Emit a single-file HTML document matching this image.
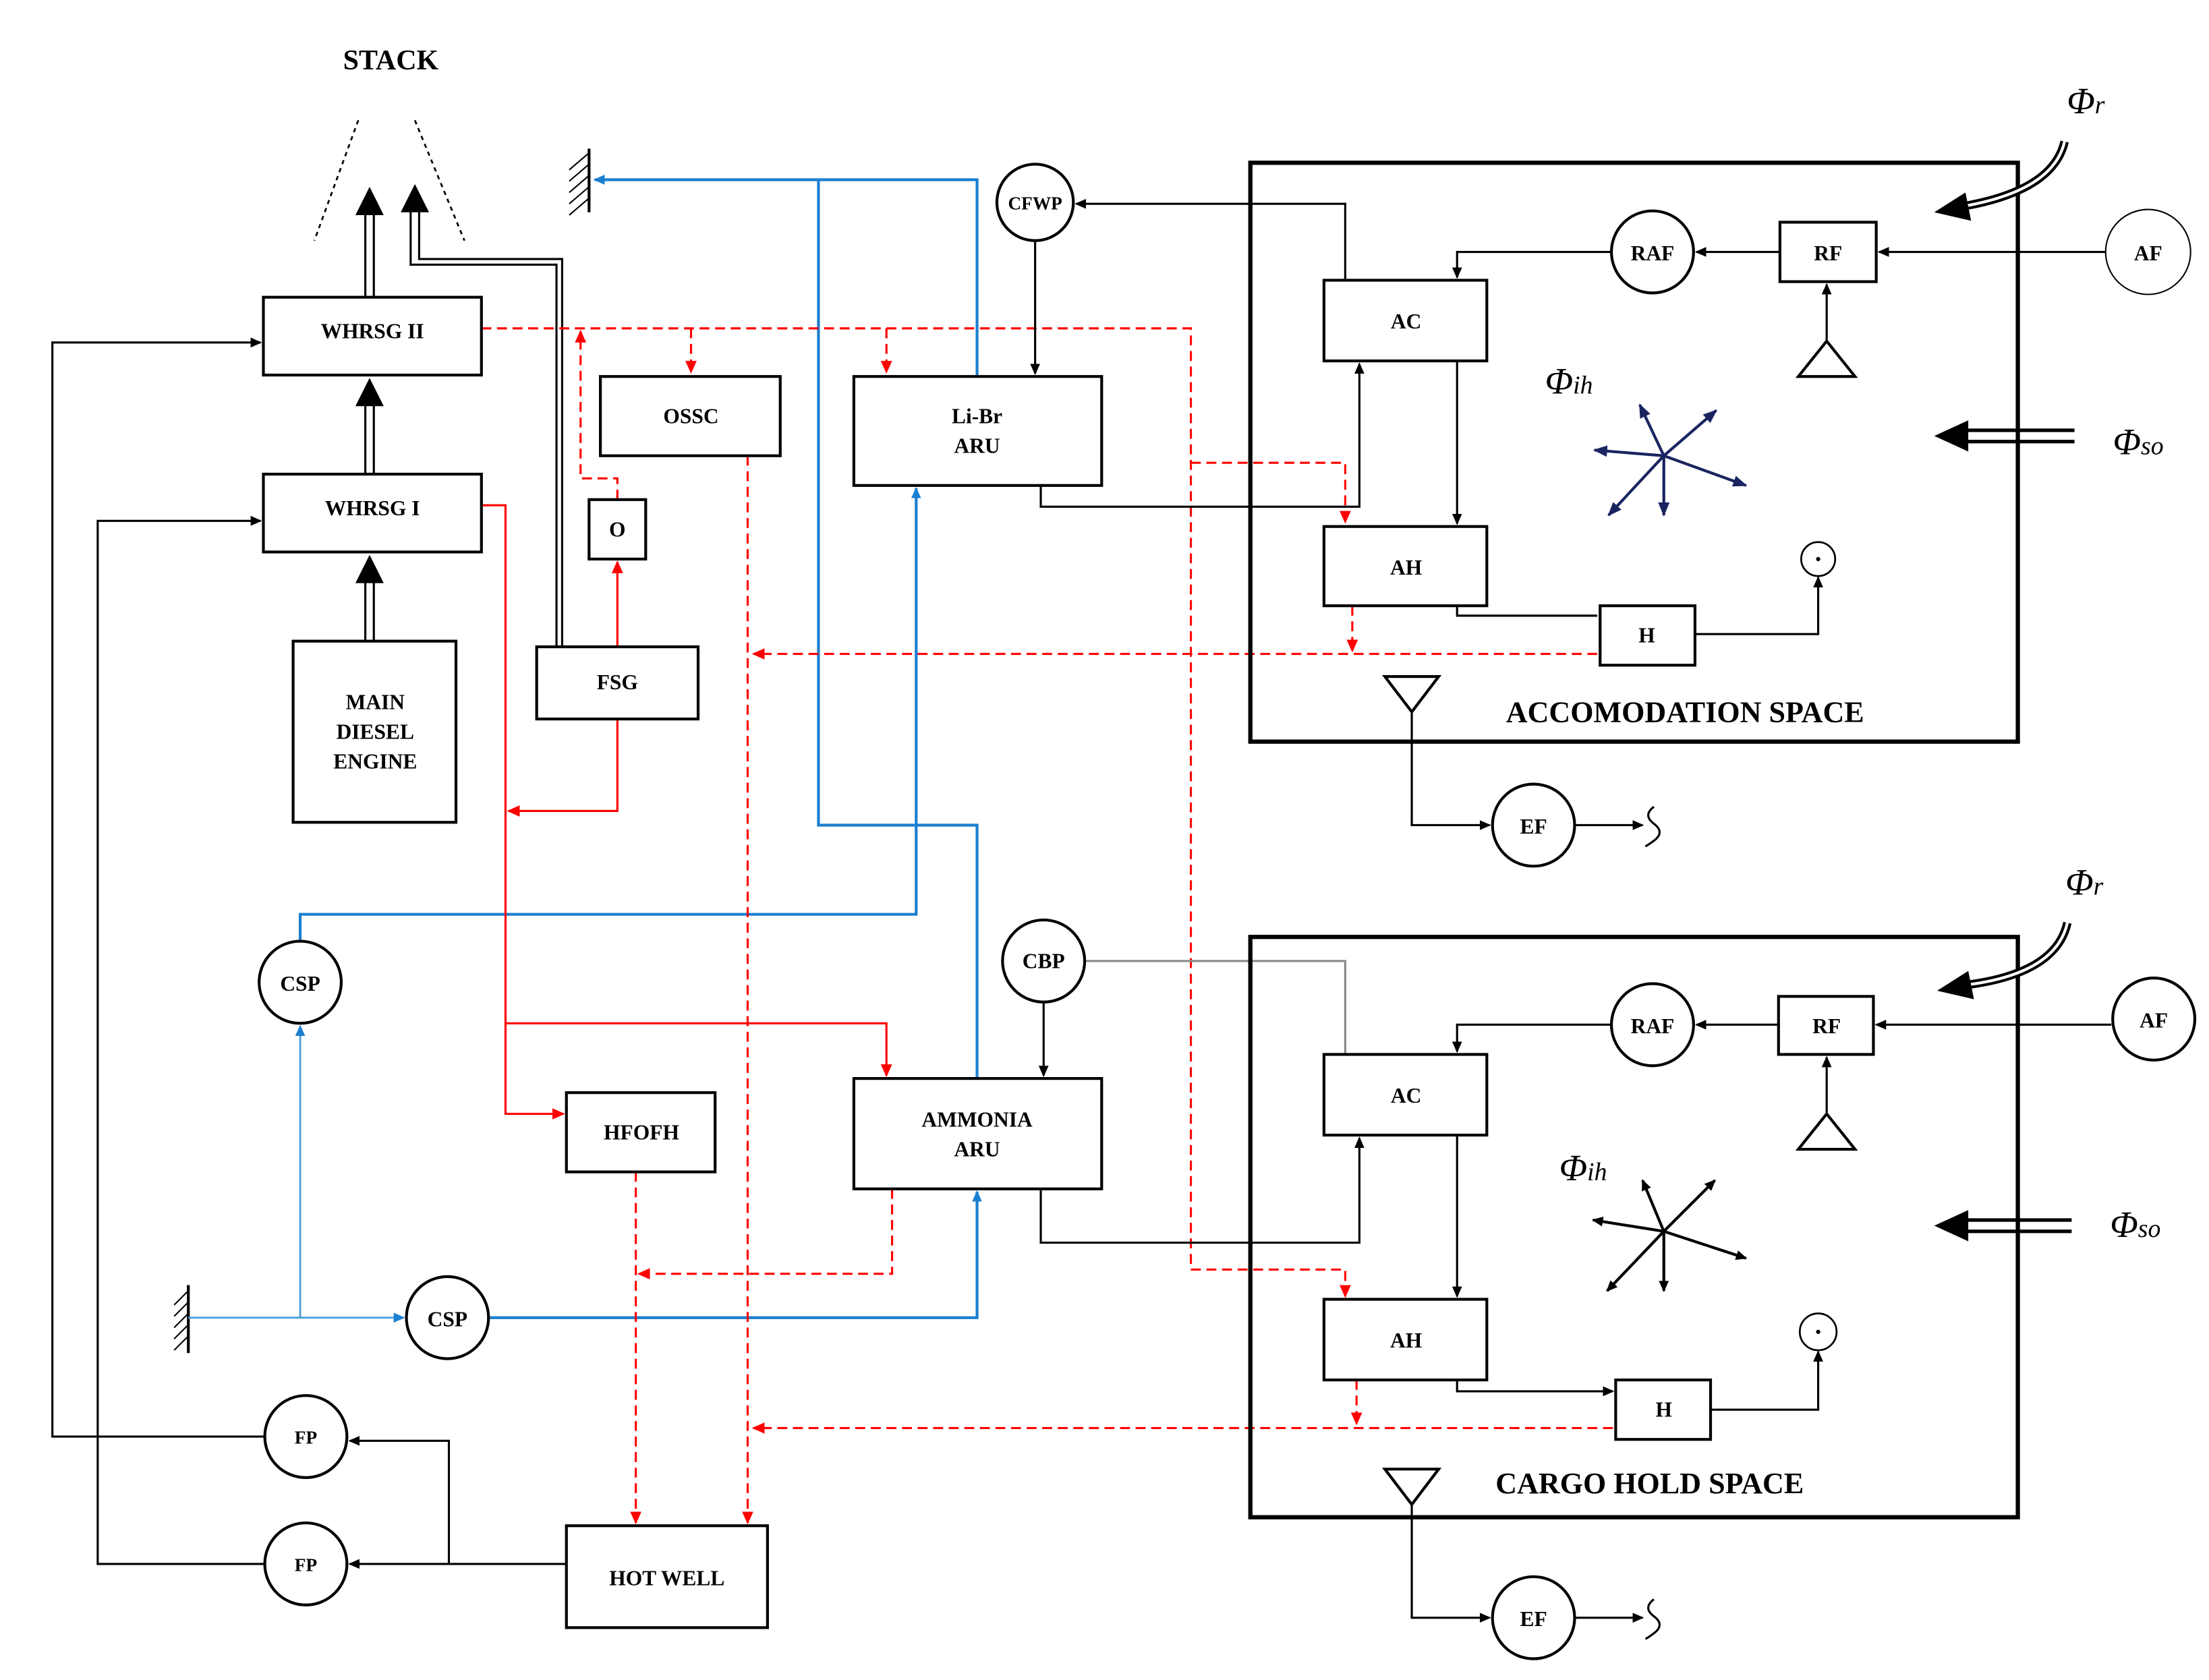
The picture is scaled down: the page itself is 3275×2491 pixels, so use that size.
<!DOCTYPE html>
<html><head><meta charset="utf-8"><style>
html,body{margin:0;padding:0;background:#fff}
svg{display:block}
text{font-family:"Liberation Serif",serif;font-weight:bold;fill:#000}
text.phi{font-weight:normal;font-style:italic}
</style></head><body>
<svg width="3275" height="2491" viewBox="0 0 1560 1187" preserveAspectRatio="none" xmlns="http://www.w3.org/2000/svg">
<defs>
<marker id="ak" markerWidth="8" markerHeight="8" refX="7" refY="4" orient="auto" markerUnits="userSpaceOnUse"><path d="M0,0.5 L8,4 L0,7.5 z" fill="#000"/></marker>
<marker id="ab" markerWidth="8" markerHeight="8" refX="7" refY="4" orient="auto" markerUnits="userSpaceOnUse"><path d="M0,0.5 L8,4 L0,7.5 z" fill="#1a7fd0"/></marker>
<marker id="ar" markerWidth="9" markerHeight="9" refX="8" refY="4.5" orient="auto" markerUnits="userSpaceOnUse"><path d="M0,0.5 L9,4.5 L0,8.5 z" fill="#f00"/></marker>
<marker id="an" markerWidth="10" markerHeight="10" refX="9" refY="5" orient="auto" markerUnits="userSpaceOnUse"><path d="M0,1 L10,5 L0,9 z" fill="#1a2460"/></marker>
</defs>
<rect width="1560" height="1187" fill="#fff"/>

<text x="276" y="49" font-size="20" text-anchor="middle">STACK</text>
<g stroke="#000" stroke-width="1.3" stroke-dasharray="3,3"><line x1="253" y1="85" x2="222" y2="170"/><line x1="293" y1="85" x2="328" y2="170"/></g>
<g stroke="#000" stroke-width="1.5" fill="none">
<path d="M258,210 V150 M264,210 V150"/>
<path d="M258,335 V285 M264,335 V285"/>
<path d="M258,453 V410 M264,453 V410"/>
<path d="M393,457 V187 H290 V148 M397,457 V183 H296 V148"/>
</g>
<g fill="#000">
<path d="M251,152 L261,132 L271,152z"/><path d="M251,287 L261,267 L271,287z"/><path d="M251,412 L261,392 L271,412z"/><path d="M283,150 L293,130 L303,150z"/>
</g>

<g stroke="#000" stroke-width="2"><line x1="416" y1="105" x2="416" y2="150"/><line x1="133" y1="908" x2="133" y2="956"/></g>
<g stroke="#000" stroke-width="1"><path d="M416,108 l-14,12 M416,116 l-14,12 M416,124 l-14,12 M416,132 l-14,12 M416,140 l-14,12"/>
<path d="M133,912 l-10,10 M133,920 l-10,10 M133,928 l-10,10 M133,936 l-10,10 M133,944 l-10,10"/></g>

<g stroke="#1a7fd0" stroke-width="2" fill="none">
<path d="M690,266 V127 H420" marker-end="url(#ab)"/>
<path d="M578,127 V583 H690 V762"/>
<path d="M212,665 V646 H647 V345" marker-end="url(#ab)"/>
<path d="M346,931 H690 V842" marker-end="url(#ab)"/>
</g>
<g stroke="#4a9ad8" stroke-width="1.3" fill="none">
<path d="M133,931 H285" marker-end="url(#ab)"/>
<path d="M212,931 V725" marker-end="url(#ab)"/>
</g>

<g stroke="#f00" stroke-width="1.5" fill="none">
<path d="M340,357 H357 V787 H398" marker-end="url(#ar)"/>
<path d="M357,723 H626 V760" marker-end="url(#ar)"/>
<path d="M436,508 V573 H359" marker-end="url(#ar)"/>
<path d="M436,457 V397" marker-end="url(#ar)"/>
</g>
<g stroke="#f00" stroke-width="1.5" fill="none" stroke-dasharray="7,4">
<path d="M436,353 V338 H410 V234" marker-end="url(#ar)"/>
<path d="M340,232 H841 V897 H950 V916" marker-end="url(#ar)"/>
<path d="M488,232 V263" marker-end="url(#ar)"/>
<path d="M626,232 V263" marker-end="url(#ar)"/>
<path d="M841,327 H950 V369" marker-end="url(#ar)"/>
<path d="M528,322 V1076" marker-end="url(#ar)"/>
<path d="M449,828 V1076" marker-end="url(#ar)"/>
<path d="M630,840 V900 H451" marker-end="url(#ar)"/>
<path d="M1128,462 H532" marker-end="url(#ar)"/>
<path d="M955,428 V460" marker-end="url(#ar)"/>
<path d="M1139,1009 H532" marker-end="url(#ar)"/>
<path d="M958,975 V1006" marker-end="url(#ar)"/>
</g>

<g stroke="#000" stroke-width="1.5" fill="none">
<path d="M400,1105 H247" marker-end="url(#ak)"/>
<path d="M317,1105 V1018 H247" marker-end="url(#ak)"/>
<path d="M187,1015 H37 V242 H184" marker-end="url(#ak)"/>
<path d="M187,1105 H69 V368 H184" marker-end="url(#ak)"/>
<path d="M950,198 V144 H760" marker-end="url(#ak)"/>
<path d="M731,170 V264" marker-end="url(#ak)"/>
<path d="M735,343 V358 H960 V257" marker-end="url(#ak)"/>
<path d="M737,708 V760" marker-end="url(#ak)"/>
<path d="M735,840 V878 H960 V804" marker-end="url(#ak)"/>
</g>
<path d="M766,679 H950 V745" stroke="#888" stroke-width="1.5" fill="none"/>

<g fill="#fff" stroke="#000" stroke-width="2">
<rect x="186" y="210" width="154" height="55"/>
<rect x="186" y="335" width="154" height="55"/>
<rect x="207" y="453" width="115" height="128"/>
<rect x="379" y="457" width="114" height="51"/>
<rect x="416" y="353" width="40" height="42"/>
<rect x="424" y="266" width="127" height="56"/>
<rect x="603" y="266" width="175" height="77"/>
<rect x="603" y="762" width="175" height="78"/>
<rect x="400" y="772" width="105" height="56"/>
<rect x="400" y="1078" width="142" height="72"/>
<circle cx="731" cy="143" r="27"/>
<circle cx="737" cy="679" r="29"/>
<circle cx="212" cy="694" r="29"/>
<circle cx="316" cy="931" r="29"/>
<circle cx="216" cy="1015" r="29"/>
<circle cx="216" cy="1105" r="29"/>
</g>
<g font-size="15" text-anchor="middle">
<text x="263" y="239">WHRSG II</text>
<text x="263" y="364">WHRSG I</text>
<text x="265" y="501">MAIN</text><text x="265" y="522">DIESEL</text><text x="265" y="543">ENGINE</text>
<text x="436" y="487">FSG</text>
<text x="436" y="379">O</text>
<text x="488" y="299">OSSC</text>
<text x="690" y="299">Li-Br</text><text x="690" y="320">ARU</text>
<text x="690" y="796">AMMONIA</text><text x="690" y="817">ARU</text>
<text x="453" y="805">HFOFH</text>
<text x="471" y="1120">HOT WELL</text>
<text x="731" y="148" font-size="13">CFWP</text>
<text x="737" y="684">CBP</text>
<text x="212" y="700">CSP</text>
<text x="316" y="937">CSP</text>
<text x="216" y="1020" font-size="13">FP</text>
<text x="216" y="1110" font-size="13">FP</text>
</g>

<g>
<rect x="883" y="115" width="542" height="409" fill="none" stroke="#000" stroke-width="3"/>
<g stroke="#000" stroke-width="1.5" fill="none">
<path d="M1487,178 H1327" marker-end="url(#ak)"/>
<path d="M1257,178 H1198" marker-end="url(#ak)"/>
<path d="M1138,178 H1029 V196" marker-end="url(#ak)"/>
<path d="M1290,241 V201" marker-end="url(#ak)"/>
<path d="M1029,255 V370" marker-end="url(#ak)"/>
<path d="M1029,428 V435 H1128"/>
<path d="M1197,448 H1284 V408" marker-end="url(#ak)"/>
</g>
<g fill="#fff" stroke="#000" stroke-width="2">
<rect x="935" y="198" width="115" height="57"/>
<rect x="935" y="372" width="115" height="56"/>
<rect x="1130" y="428" width="67" height="42"/>
<rect x="1257" y="157" width="68" height="42"/>
<circle cx="1167" cy="178" r="29"/>
<path d="M1270,266 L1310,266 L1290,241z"/>
<path d="M978,478 L1016,478 L997,503z"/>
</g>
<circle cx="1517" cy="178" r="30" fill="#fff" stroke="#000" stroke-width="1"/>
<circle cx="1284" cy="395" r="12" fill="#fff" stroke="#000" stroke-width="1.3"/><circle cx="1284" cy="395" r="1.5"/>
<g font-size="15" text-anchor="middle">
<text x="993" y="232">AC</text><text x="993" y="406">AH</text><text x="1163" y="454">H</text>
<text x="1291" y="184">RF</text><text x="1167" y="184">RAF</text><text x="1517" y="184">AF</text>
</g>
<g stroke="#1a2460" stroke-width="2">
<line x1="1175" y1="322" x2="1158" y2="286" marker-end="url(#an)"/>
<line x1="1175" y1="322" x2="1212" y2="290" marker-end="url(#an)"/>
<line x1="1175" y1="322" x2="1126" y2="318" marker-end="url(#an)"/>
<line x1="1175" y1="322" x2="1233" y2="343" marker-end="url(#an)"/>
<line x1="1175" y1="322" x2="1136" y2="364" marker-end="url(#an)"/>
<line x1="1175" y1="322" x2="1175" y2="364" marker-end="url(#an)"/>
</g>
<text class="phi" x="1108" y="278" font-size="26" text-anchor="middle">Φ<tspan font-size="18">ih</tspan></text>
<text class="phi" x="1473" y="80" font-size="26" text-anchor="middle">Φ<tspan font-size="18">r</tspan></text>
<text class="phi" x="1510" y="321" font-size="26" text-anchor="middle">Φ<tspan font-size="18">so</tspan></text>
<path d="M1458,100 Q1450,135 1385,146" stroke="#000" stroke-width="6" fill="none"/>
<path d="M1458,100 Q1450,135 1385,146" stroke="#fff" stroke-width="2" fill="none"/>
<path d="M1388,136 L1366,150 L1392,156z"/>
<path d="M1465,304 H1385 M1465,312 H1385" stroke="#000" stroke-width="2.5"/>
<path d="M1390,297 L1366,308 L1390,319z"/>
<g stroke="#000" stroke-width="1.5" fill="none">
<path d="M997,503 V583 H1052" marker-end="url(#ak)"/>
<path d="M1112,583 H1160" marker-end="url(#ak)"/>
<path d="M1168,570 q-8,6 0,12 q8,6 0,12 q-4,3 -6,4"/>
</g>
<circle cx="1083" cy="583" r="29" fill="#fff" stroke="#000" stroke-width="2"/>
<text x="1083" y="589" font-size="15" text-anchor="middle">EF</text>
</g>
<text x="1190" y="510" font-size="21" text-anchor="middle">ACCOMODATION SPACE</text>

<g>
<rect x="883" y="662" width="542" height="410" fill="none" stroke="#000" stroke-width="3"/>
<g stroke="#000" stroke-width="1.5" fill="none">
<path d="M1491,724 H1325" marker-end="url(#ak)"/>
<path d="M1256,724 H1198" marker-end="url(#ak)"/>
<path d="M1138,724 H1029 V743" marker-end="url(#ak)"/>
<path d="M1290,787 V747" marker-end="url(#ak)"/>
<path d="M1029,802 V916" marker-end="url(#ak)"/>
<path d="M1029,975 V983 H1139" marker-end="url(#ak)"/>
<path d="M1208,996 H1284 V955" marker-end="url(#ak)"/>
</g>
<g fill="#fff" stroke="#000" stroke-width="2">
<rect x="935" y="745" width="115" height="57"/>
<rect x="935" y="918" width="115" height="57"/>
<rect x="1141" y="975" width="67" height="42"/>
<rect x="1256" y="704" width="67" height="41"/>
<circle cx="1167" cy="724" r="29"/>
<path d="M1270,812 L1310,812 L1290,787z"/>
<path d="M978,1038 L1016,1038 L997,1063z"/>
<circle cx="1521" cy="720" r="29"/>
</g>
<circle cx="1284" cy="941" r="13" fill="#fff" stroke="#000" stroke-width="1.3"/><circle cx="1284" cy="941" r="1.5"/>
<g font-size="15" text-anchor="middle">
<text x="993" y="779">AC</text><text x="993" y="952">AH</text><text x="1175" y="1001">H</text>
<text x="1290" y="730">RF</text><text x="1167" y="730">RAF</text><text x="1521" y="726">AF</text>
</g>
<g stroke="#000" stroke-width="2">
<line x1="1175" y1="870" x2="1160" y2="834" marker-end="url(#ak)"/>
<line x1="1175" y1="870" x2="1211" y2="834" marker-end="url(#ak)"/>
<line x1="1175" y1="870" x2="1125" y2="862" marker-end="url(#ak)"/>
<line x1="1175" y1="870" x2="1233" y2="889" marker-end="url(#ak)"/>
<line x1="1175" y1="870" x2="1135" y2="912" marker-end="url(#ak)"/>
<line x1="1175" y1="870" x2="1175" y2="912" marker-end="url(#ak)"/>
</g>
<text class="phi" x="1118" y="834" font-size="26" text-anchor="middle">Φ<tspan font-size="18">ih</tspan></text>
<text class="phi" x="1472" y="632" font-size="26" text-anchor="middle">Φ<tspan font-size="18">r</tspan></text>
<text class="phi" x="1508" y="874" font-size="26" text-anchor="middle">Φ<tspan font-size="18">so</tspan></text>
<path d="M1460,652 Q1452,688 1388,696" stroke="#000" stroke-width="6" fill="none"/>
<path d="M1460,652 Q1452,688 1388,696" stroke="#fff" stroke-width="2" fill="none"/>
<path d="M1390,686 L1368,700 L1394,706z"/>
<path d="M1463,862 H1385 M1463,870 H1385" stroke="#000" stroke-width="2.5"/>
<path d="M1390,855 L1366,866 L1390,877z"/>
<g stroke="#000" stroke-width="1.5" fill="none">
<path d="M997,1063 V1143 H1052" marker-end="url(#ak)"/>
<path d="M1112,1143 H1160" marker-end="url(#ak)"/>
<path d="M1168,1130 q-8,6 0,12 q8,6 0,12 q-4,3 -6,4"/>
</g>
<circle cx="1083" cy="1143" r="29" fill="#fff" stroke="#000" stroke-width="2"/>
<text x="1083" y="1149" font-size="15" text-anchor="middle">EF</text>
</g>
<text x="1165" y="1055" font-size="21" text-anchor="middle">CARGO HOLD SPACE</text>
</svg>
</body></html>
